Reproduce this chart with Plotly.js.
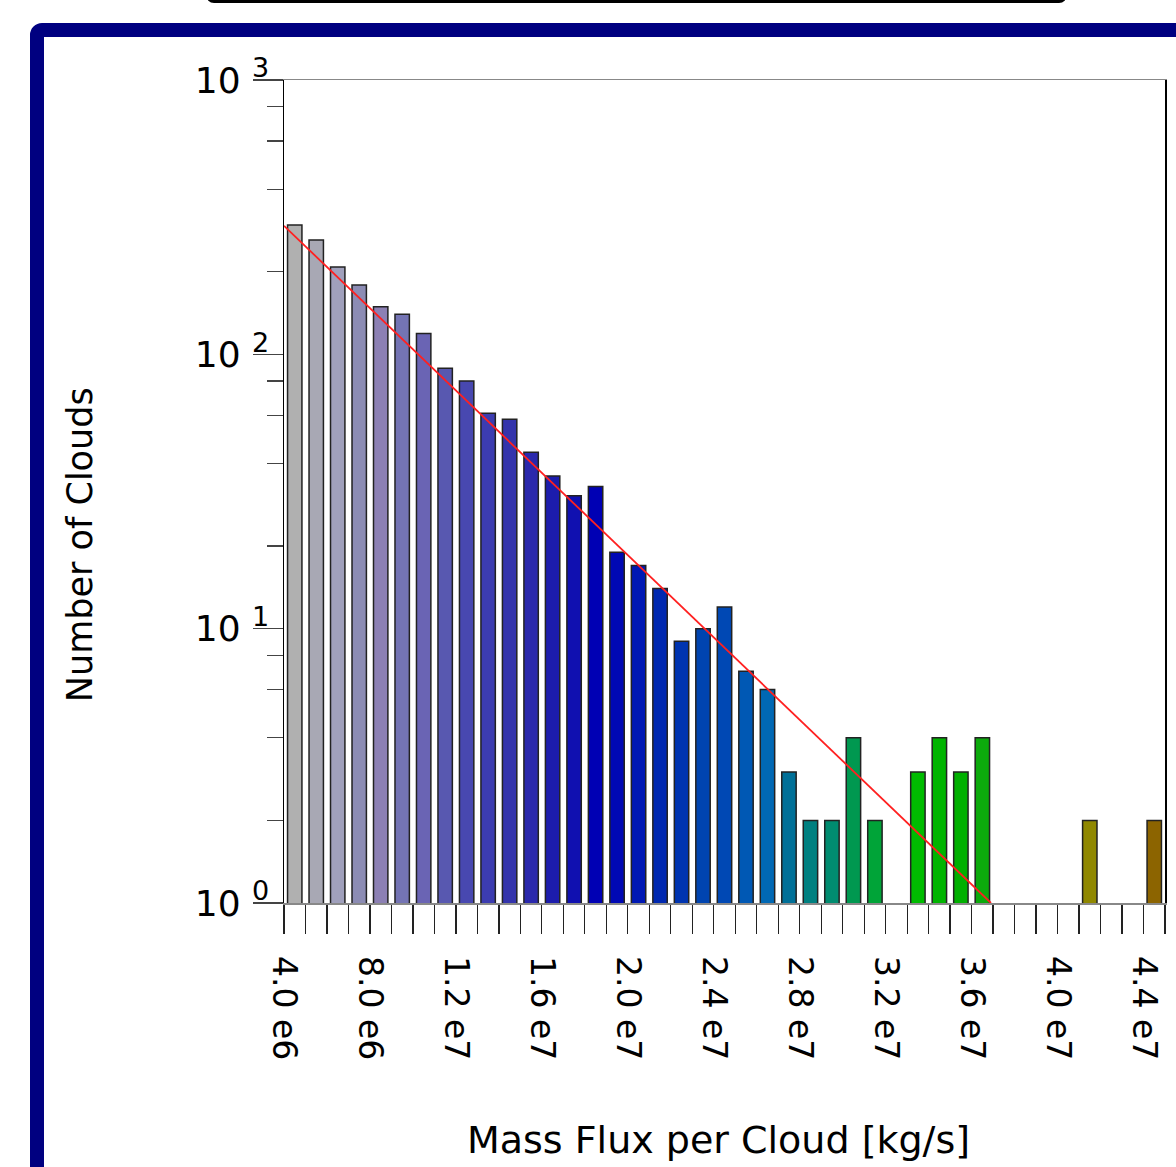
<!DOCTYPE html>
<html>
<head>
<meta charset="utf-8">
<script src="https://cdn.plot.ly/plotly-3.0.1.min.js"></script>
<style>
  html, body { margin: 0; padding: 0; width: 1176px; height: 1167px; overflow: hidden; background: #fff; }
  #frame { position: absolute; left: 30px; top: 23px; width: 1300px; height: 1300px;
           box-sizing: border-box; border: 14px solid #000080; border-radius: 12px; background: #fff; }
  #topbox { position: absolute; left: 206px; top: -57px; width: 861px; height: 60px;
            box-sizing: border-box; border: 3px solid #000; border-radius: 8px; background: #fff; }
  #chart { position: absolute; left: 0; top: 0; width: 1176px; height: 1167px; }
</style>
</head>
<body>
<div id="topbox"></div>
<div id="frame"></div>
<div id="chart"></div>
<script>
// Bin centres (kg/s), bin width 1e6, from 4.0e6 to 4.5e7
const binCenters = [4.5e6,5.5e6,6.5e6,7.5e6,8.5e6,9.5e6,10.5e6,11.5e6,12.5e6,13.5e6,
  14.5e6,15.5e6,16.5e6,17.5e6,18.5e6,19.5e6,20.5e6,21.5e6,22.5e6,23.5e6,
  24.5e6,25.5e6,26.5e6,27.5e6,28.5e6,29.5e6,30.5e6,31.5e6,32.5e6,33.5e6,
  34.5e6,35.5e6,36.5e6,37.5e6,38.5e6,39.5e6,40.5e6,41.5e6,42.5e6,43.5e6,44.5e6];
const cloudCounts = [296,261,208,179,149,140,119,89,80,61,
  58,44,36,30.5,33,19,17,14,9,10,
  12,7,6,3,2,2,4,2,null,3,
  4,3,4,null,null,null,null,2,null,null,2];
const barColors = ['#b0b0b0','#a8a8b4','#a0a0bc','#8c8cb4','#8c80b4','#7474b4','#6a64b4','#5858b0','#4848b0','#3c3cb0',
  '#3434ac','#2a28ac','#1c1cac','#1010b0','#0000b4','#0008b4','#0018b4','#0028b0','#0034b0','#0044b0',
  '#0048b4','#0058b4','#0068b4','#007098','#008080','#008c70','#009850','#00a438','#00a800','#00bc00',
  '#00b400','#00b000','#0caa0c','#30a000','#509800','#709000','#808c00','#908800','#907800','#8e6e00','#8c6400'];
// Fitted power-law line endpoints
const fitX = [4.0e6, 3.69e7];
const fitY = [294, 1];
// Tick labels
const xTickVals = [4e6,8e6,12e6,16e6,20e6,24e6,28e6,32e6,36e6,40e6,44e6];
const xTickText = ['4.0 e6','8.0 e6','1.2 e7','1.6 e7','2.0 e7','2.4 e7','2.8 e7','3.2 e7','3.6 e7','4.0 e7','4.4 e7'];
const yTickVals = [1,10,100,1000];
const yExponents = ['0','1','2','3'];
const yTickText = yExponents.map(e => '10 <sup><span style="font-size:27px">' + e + '</span></sup>');
const yMinorVals = [2,4,6,8,20,40,60,80,200,400,600,800];
const xTitle = 'Mass Flux per Cloud [kg/s]';
const yTitle = 'Number of Clouds';

const font = 'DejaVu Sans, sans-serif';
const traces = [
  { type: 'bar', x: binCenters, y: cloudCounts, width: 6.7e5,
    marker: { color: barColors, line: { color: '#222', width: 1.5 } },
    hoverinfo: 'x+y', showlegend: false },
  { type: 'scatter', mode: 'lines', x: fitX, y: fitY,
    line: { color: '#ff2020', width: 1.8 }, showlegend: false }
];
const layout = {
  width: 1176, height: 1167,
  margin: { l: 284, r: 11, t: 80, b: 264 },
  paper_bgcolor: 'rgba(0,0,0,0)', plot_bgcolor: 'rgba(0,0,0,0)',
  showlegend: false, bargap: 0,
  font: { family: font, color: '#000' },
  xaxis: {
    range: [4e6, 4.5e7], showgrid: false, zeroline: false,
    showline: true, mirror: true, linecolor: '#888', linewidth: 1.5,
    tickmode: 'array', tickvals: xTickVals, ticktext: xTickText,
    ticks: 'outside', ticklen: 29, tickcolor: '#222', tickwidth: 1.3,
    tickangle: 90, ticklabelstandoff: 16,
    tickfont: { family: font, size: 33, color: '#000' },
    minor: { tickmode: 'linear', tick0: 4e6, dtick: 1e6, ticks: 'outside', ticklen: 29, tickcolor: '#222', tickwidth: 1.3, showgrid: false }
  },
  yaxis: {
    type: 'log', range: [0, 3], showgrid: false, zeroline: false,
    showline: true, mirror: true, linecolor: '#000', linewidth: 1.5,
    tickmode: 'array', tickvals: yTickVals, ticktext: yTickText,
    ticks: 'outside', ticklen: 30, tickcolor: '#444', tickwidth: 1.3,
    ticklabelstandoff: -24,
    tickfont: { family: font, size: 36, color: '#000' },
    minor: { tickmode: 'array', tickvals: yMinorVals, ticks: 'outside', ticklen: 16, tickcolor: '#444', tickwidth: 1.3, showgrid: false }
  },
  annotations: [
    { text: xTitle, xref: 'paper', yref: 'paper', x: 0.4932, y: -0.288,
      xanchor: 'center', yanchor: 'middle', showarrow: false,
      font: { family: font, size: 38, color: '#000' } },
    { text: yTitle, xref: 'paper', yref: 'paper', x: -0.2316, y: 0.436, textangle: -90,
      xanchor: 'center', yanchor: 'middle', showarrow: false,
      font: { family: font, size: 35, color: '#000' } }
  ]
};
Plotly.newPlot('chart', traces, layout, { staticPlot: true });
</script>
</body>
</html>
